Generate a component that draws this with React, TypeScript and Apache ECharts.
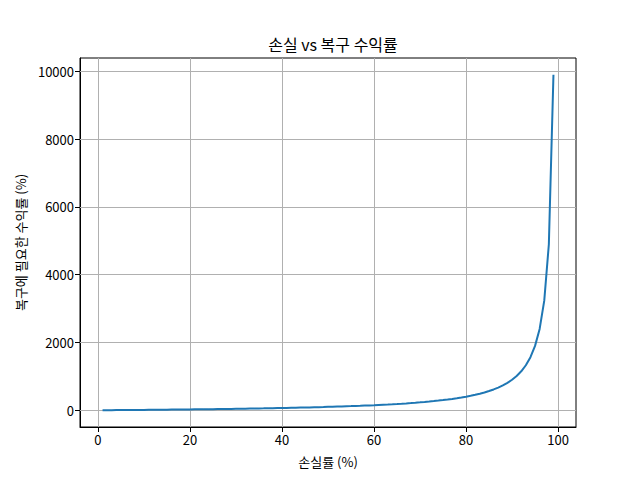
import React, { useEffect, useRef } from "react";
import * as echarts from "echarts";

const lossPct: number[] = [
  1, 2, 3, 4, 5, 6, 7, 8, 9, 10, 11, 12, 13, 14, 15, 16, 17, 18, 19, 20,
  21, 22, 23, 24, 25, 26, 27, 28, 29, 30, 31, 32, 33, 34, 35, 36, 37, 38, 39, 40,
  41, 42, 43, 44, 45, 46, 47, 48, 49, 50, 51, 52, 53, 54, 55, 56, 57, 58, 59, 60,
  61, 62, 63, 64, 65, 66, 67, 68, 69, 70, 71, 72, 73, 74, 75, 76, 77, 78, 79, 80,
  81, 82, 83, 84, 85, 86, 87, 88, 89, 90, 91, 92, 93, 94, 95, 96, 97, 98, 99,
];
const recoveryPct: number[] = [
  1.01, 2.04, 3.09, 4.17, 5.26, 6.38, 7.53, 8.7, 9.89, 11.11,
  12.36, 13.64, 14.94, 16.28, 17.65, 19.05, 20.48, 21.95, 23.46, 25.0,
  26.58, 28.21, 29.87, 31.58, 33.33, 35.14, 36.99, 38.89, 40.85, 42.86,
  44.93, 47.06, 49.25, 51.52, 53.85, 56.25, 58.73, 61.29, 63.93, 66.67,
  69.49, 72.41, 75.44, 78.57, 81.82, 85.19, 88.68, 92.31, 96.08, 100.0,
  104.08, 108.33, 112.77, 117.39, 122.22, 127.27, 132.56, 138.1, 143.9, 150.0,
  156.41, 163.16, 170.27, 177.78, 185.71, 194.12, 203.03, 212.5, 222.58, 233.33,
  244.83, 257.14, 270.37, 284.62, 300.0, 316.67, 334.78, 354.55, 376.19, 400.0,
  426.32, 455.56, 488.24, 525.0, 566.67, 614.29, 669.23, 733.33, 809.09, 900.0,
  1011.11, 1150.0, 1328.57, 1566.67, 1900.0, 2400.0, 3233.33, 4900.0, 9900.0,
];
const xTicks: number[] = [0, 20, 40, 60, 80, 100];
const yTicks: number[] = [0, 2000, 4000, 6000, 8000, 10000];

const titleText = "손실 vs 복구 수익률";
const xName = "손실률 (%)";
const yName = "복구에 필요한 수익률 (%)";

const FONT = "Noto Sans CJK KR";

export default function App() {
  const ref = useRef<HTMLDivElement>(null);
  useEffect(() => {
    document.body.style.margin = "0";
    if (!ref.current) return;
    const chart = echarts.init(ref.current, null, { renderer: "svg" });
    const xMin = -3.9;
    const xMax = 103.9;
    const yMin = -493.9;
    const yMax = 10394.9;
    chart.setOption({
      animation: false,
      backgroundColor: "#ffffff",
      textStyle: { fontFamily: FONT },
      title: {
        text: titleText,
        left: 328,
        textAlign: "center",
        top: 31,
        textStyle: { fontFamily: FONT, fontSize: 16, fontWeight: "normal", color: "#000" },
      },
      grid: {
        left: 80,
        right: 64,
        top: 58,
        bottom: 53,
        show: true,
        borderColor: "#000",
        borderWidth: 1,
        backgroundColor: "transparent",
      },
      xAxis: {
        type: "value",
        min: xMin,
        max: xMax,
        name: xName,
        nameLocation: "middle",
        nameGap: 28,
        nameTextStyle: { fontFamily: FONT, fontSize: 13, color: "#000" },
        axisLine: { show: true, onZero: false, lineStyle: { color: "#000", width: 1 } },
        axisTick: { show: true, length: 5, lineStyle: { color: "#000" }, customValues: xTicks },
        axisLabel: {
          fontFamily: FONT,
          fontSize: 13,
          color: "#000",
          margin: 6,
          customValues: xTicks,
          formatter: (v: number) => String(v),
        },
        splitLine: { show: false },
      },
      yAxis: {
        type: "value",
        min: yMin,
        max: yMax,
        name: yName,
        nameLocation: "middle",
        nameGap: 52,
        nameRotate: 90,
        nameTextStyle: { fontFamily: FONT, fontSize: 13, color: "#000" },
        axisLine: { show: true, onZero: false, lineStyle: { color: "#000", width: 1 } },
        axisTick: { show: true, length: 5, lineStyle: { color: "#000" }, customValues: yTicks },
        axisLabel: {
          fontFamily: FONT,
          fontSize: 13,
          color: "#000",
          margin: 6,
          customValues: yTicks,
          formatter: (v: number) => String(v),
        },
        splitLine: { show: false },
      },
      series: [
        {
          type: "line",
          data: lossPct.map((x, i) => [x, recoveryPct[i]]),
          showSymbol: false,
          symbol: "none",
          lineStyle: { color: "#1f77b4", width: 2 },
          itemStyle: { color: "#1f77b4" },
          z: 3,
          markLine: {
            silent: true,
            symbol: "none",
            label: { show: false },
            animation: false,
            lineStyle: { color: "#b0b0b0", width: 1, type: "solid" },
            data: [
              ...xTicks.map((v) => ({ xAxis: v })),
              ...yTicks.map((v) => ({ yAxis: v })),
            ],
            z: 1,
          },
        },
      ],
    });
    return () => chart.dispose();
  }, []);
  return <div ref={ref} style={{ width: 640, height: 480 }} />;
}
